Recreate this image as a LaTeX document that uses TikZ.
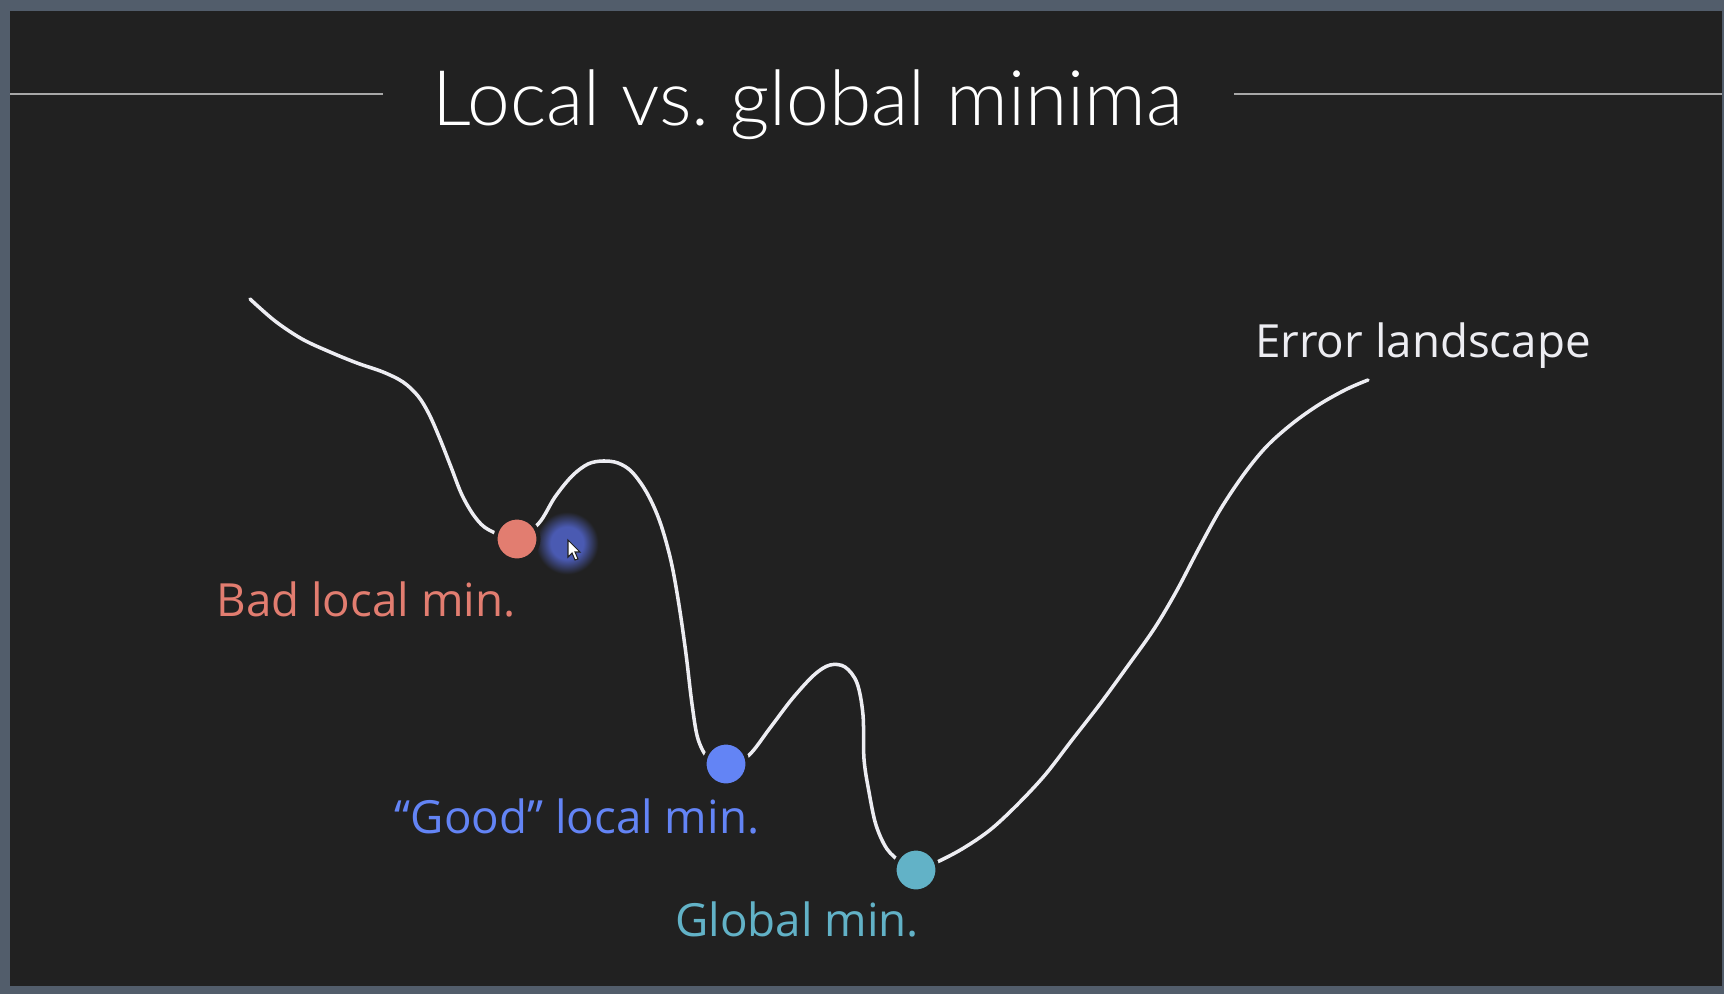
\documentclass[tikz,border=0pt]{standalone}
\usepackage{fontspec}
\setmainfont{Open Sans}
\newfontfamily\thinfont{Lato Light}
\usepackage{xcolor}
\usepackage{tikz}
\usetikzlibrary{positioning, calc}
\definecolor{frameC}{HTML}{525D6B}
\definecolor{bgC}{HTML}{212121}
\definecolor{inkC}{HTML}{EDEDF2}
\definecolor{ruleC}{HTML}{A8A8A8}
\definecolor{badC}{HTML}{E27D70}
\definecolor{goodC}{HTML}{6384F5}
\definecolor{globC}{HTML}{62B2C7}
\definecolor{glowC}{HTML}{4A5AB2}
\pgfdeclareradialshading{cursorglow}{\pgfpoint{0bp}{0bp}}{color(0bp)=(glowC); color(12bp)=(glowC);
  color(23bp)=(bgC); color(50bp)=(bgC)}
\tikzset{
  mindot/.style={circle, draw=bgC, line width=0.04cm, minimum size=0.43cm, inner sep=0pt},
  lbl/.style={anchor=base, font=\fontsize{13pt}{15pt}\selectfont, inner sep=0pt},
  landline/.style={draw=inkC, line width=1pt, line cap=round},
}

\begin{document}
\begin{tikzpicture}[x=0.01cm, y=-0.01cm]
  \useasboundingbox (0,0) rectangle (1724,994);
  % ---- frame and background
  \fill[frameC] (0,0) rectangle (1724,994);
  \fill[bgC] (10,11) rectangle (1722,986);
  % ---- title with rules
  \node[anchor=base, inner sep=0pt, text=white, font=\thinfont\fontsize{21.8pt}{26pt}\selectfont] (title) at (808,126) {Local vs.\ global minima};
  \draw[ruleC, line width=0.6pt] (10,94) -- (383,94);
  \draw[ruleC, line width=0.6pt] (1234,94) -- (1722,94);
  % ---- the minima
  \coordinate (pbad) at (517,539);
  \coordinate (pgood) at (726,764);
  \coordinate (pglob) at (916,870);
  % ---- cursor glow
  \shade[shading=cursorglow] (567,543) circle (34);
  % ---- error landscape curve
  \draw[landline] plot[smooth, tension=0.55] coordinates {
    (250,299) (275,321) (302,339) (330,352) (357,363) (383,372) (403,382) (418,396) (429,414)
    (440,439) (451,467) (462,495) (475,517) (489,530) (pbad)
    (539,523) (555,497) (572,476) (588,464) (603,461) (618,463) (632,472) (647,493) (660,522)
    (671,561) (679,605) (686,654) (692,704) (698,739) (709,759) (pgood)
    (748,756) (770,728) (792,699) (814,675) (830,665) (845,667) (857,683) (863,715) (864,759)
    (869,792) (876,825) (887,849) (902,863) (pglob)
    (935,863) (962,849) (990,830) (1017,805) (1045,775) (1072,740) (1100,704) (1127,667)
    (1154,629) (1176,592) (1198,550) (1220,510) (1244,474) (1267,446) (1293,423) (1320,404)
    (1347,389) (1368,380)};
  \node[mindot, fill=badC] (badmin) at (pbad) {};
  \node[mindot, fill=goodC] (goodmin) at (pgood) {};
  \node[mindot, fill=globC] (globmin) at (pglob) {};
  \fill[white, draw=bgC, line width=0.3pt, shift={(568,540)}]
    (0,0) -- (0,17) -- (4,13) -- (7,20) -- (10,19) -- (7,12) -- (12,12) -- cycle;
  % ---- labels
  \node[lbl, text=badC] (badlbl) at (366,616) {Bad local min.};
  \node[lbl, text=goodC] (goodlbl) at (577,833) {“Good” local min.};
  \node[lbl, text=globC] (globlbl) at (797,936) {Global min.};
  \node[lbl, text=inkC] (errlbl) at (1423,357) {Error landscape};
\end{tikzpicture}
\end{document}
